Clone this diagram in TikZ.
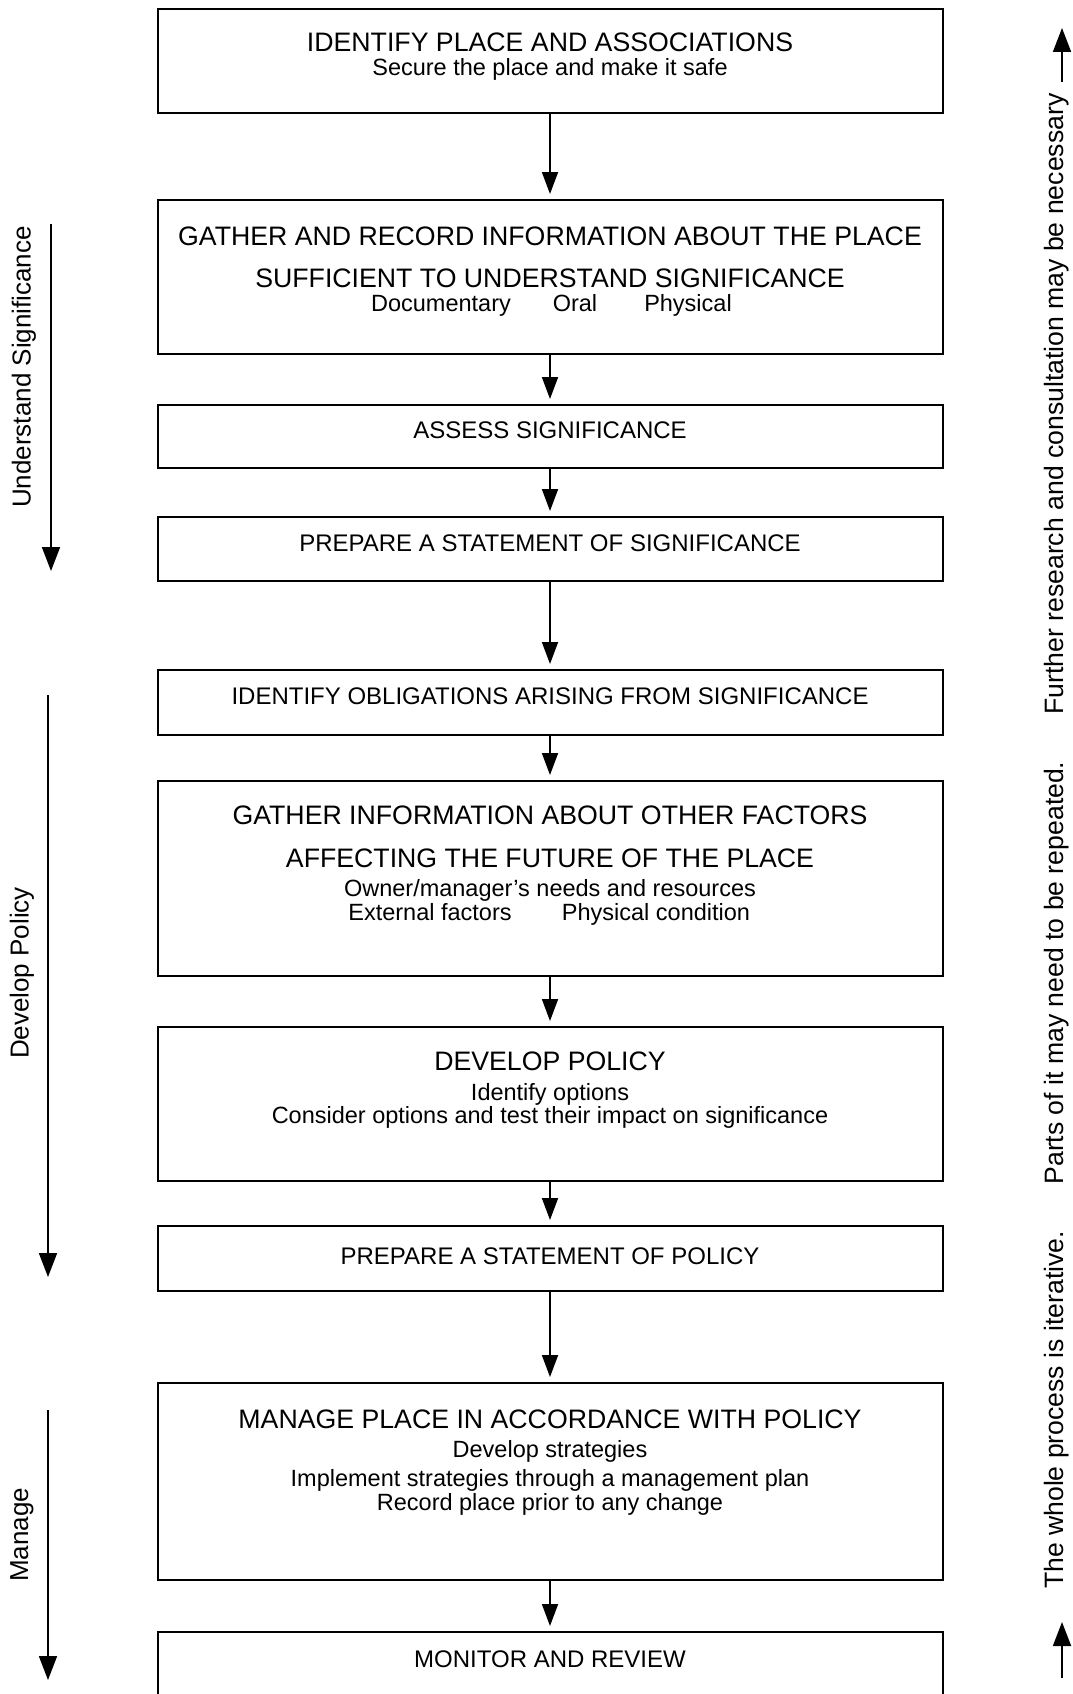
\documentclass[tikz,border=0pt]{standalone}
\usepackage{fontspec}
\setmainfont{Liberation Sans}
\usetikzlibrary{arrows.meta}
\begin{document}
\begin{tikzpicture}[x=1pt,y=-1pt,
 box/.style={draw, line width=2pt, minimum width=785pt, inner sep=0pt},
 flow/.style={line width=1.8pt, -{Triangle[length=22pt,width=16pt]}, shorten >=5pt},
 phase/.style={line width=1.8pt, -{Triangle[length=24pt,width=18pt]}},
 ttl/.style={anchor=base, font=\fontsize{26.7}{30}\selectfont, inner sep=0pt},
 sub/.style={anchor=base, font=\fontsize{23.5}{28}\selectfont, inner sep=0pt},
 one/.style={anchor=base, font=\fontsize{24}{28}\selectfont, inner sep=0pt},
 side/.style={rotate=90, font=\fontsize{26}{30}\selectfont, inner sep=0pt},
 rside/.style={rotate=90, font=\fontsize{26.6}{30}\selectfont, inner sep=0pt}]
\useasboundingbox (0,0) rectangle (1073,1694);
\clip (0,0) rectangle (1073,1694);
% boxes
\node[box, minimum height=104pt] (b1) at (550,61) {};
\node[box, minimum height=154pt] (b2) at (550,277) {};
\node[box, minimum height=63pt] (b3) at (550,436.5) {};
\node[box, minimum height=64pt] (b4) at (550,549) {};
\node[box, minimum height=65pt] (b5) at (550,702.5) {};
\node[box, minimum height=195pt] (b6) at (550,878.5) {};
\node[box, minimum height=154pt] (b7) at (550,1104) {};
\node[box, minimum height=65pt] (b8) at (550,1258.5) {};
\node[box, minimum height=197pt] (b9) at (550,1481.5) {};
\node[box, minimum height=128pt] (b10) at (550,1696) {};
% texts
\node[ttl] (t1a) at (550,52) {IDENTIFY PLACE AND ASSOCIATIONS};
\node[sub] (t1b) at (550,75.5) {Secure the place and make it safe};
\node[ttl] (t2a) at (550,245) {GATHER AND RECORD INFORMATION ABOUT THE PLACE};
\node[ttl] (t2b) at (550,287) {SUFFICIENT TO UNDERSTAND SIGNIFICANCE};
\node[sub] (t2c) at (441,311.5) {Documentary};
\node[sub] (t2d) at (575,311.5) {Oral};
\node[sub] (t2e) at (688,311.5) {Physical};
\node[one] (t3) at (550,438) {ASSESS SIGNIFICANCE};
\node[one] (t4) at (550,551) {PREPARE A STATEMENT OF SIGNIFICANCE};
\node[one] (t5) at (550,704) {IDENTIFY OBLIGATIONS ARISING FROM SIGNIFICANCE};
\node[ttl] (t6a) at (550,824) {GATHER INFORMATION ABOUT OTHER FACTORS};
\node[ttl] (t6b) at (550,867) {AFFECTING THE FUTURE OF THE PLACE};
\node[sub] (t6c) at (550,896.5) {Owner/manager’s needs and resources};
\node[sub] (t6d) at (430,920.5) {External factors};
\node[sub] (t6e) at (656,920.5) {Physical condition};
\node[ttl] (t7a) at (550,1070) {DEVELOP POLICY};
\node[sub] (t7b) at (550,1100.5) {Identify options};
\node[sub] (t7c) at (550,1123.5) {Consider options and test their impact on significance};
\node[one] (t8) at (550,1264) {PREPARE A STATEMENT OF POLICY};
\node[ttl] (t9a) at (550,1428) {MANAGE PLACE IN ACCORDANCE WITH POLICY};
\node[sub] (t9b) at (550,1457.5) {Develop strategies};
\node[sub] (t9c) at (550,1486.5) {Implement strategies through a management plan};
\node[sub] (t9d) at (550,1510.5) {Record place prior to any change};
\node[one] (t10) at (550,1667) {MONITOR AND REVIEW};
% flow arrows
\draw[flow] (b1.south) -- (b2.north);
\draw[flow] (b2.south) -- (b3.north);
\draw[flow] (b3.south) -- (b4.north);
\draw[flow] (b4.south) -- (b5.north);
\draw[flow] (b5.south) -- (b6.north);
\draw[flow] (b6.south) -- (b7.north);
\draw[flow] (b7.south) -- (b8.north);
\draw[flow] (b8.south) -- (b9.north);
\draw[flow] (b9.south) -- (b10.north);
% left phases
\coordinate (u1) at (51,224);
\coordinate (u2) at (51,571);
\coordinate (d1) at (48,695);
\coordinate (d2) at (48,1277);
\coordinate (m1) at (48,1410);
\coordinate (m2) at (48,1680);
\draw[phase] (u1) -- (u2);
\draw[phase] (d1) -- (d2);
\draw[phase] (m1) -- (m2);
\node[side] (lu) at (24,367) {Understand Significance};
\node[side] (ld) at (22,973) {Develop Policy};
\node[side] (lm) at (22,1535) {Manage};
% right side
\node[rside] (r1) at (1057,1410) {The whole process is iterative.};
\node[rside] (r2) at (1057,973) {Parts of it may need to be repeated.};
\node[rside] (r3) at (1057,404) {Further research and consultation may be necessary};
\coordinate (f1) at (1062,82);
\coordinate (f2) at (1062,28);
\coordinate (w1) at (1062,1678);
\coordinate (w2) at (1062,1622);
\draw[phase] (f1) -- (f2);
\draw[phase] (w1) -- (w2);
\end{tikzpicture}
\end{document}
